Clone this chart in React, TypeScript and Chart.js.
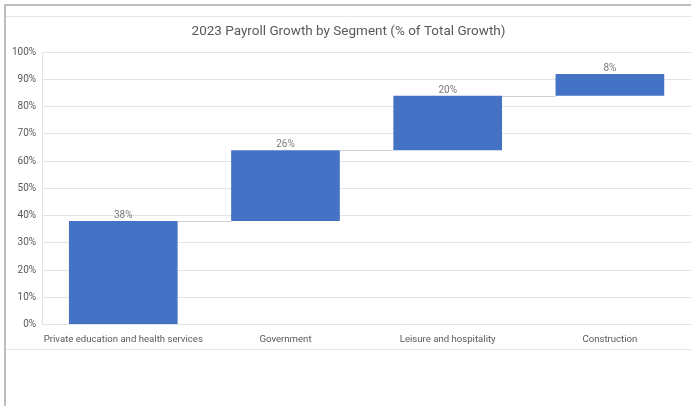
import React, { useEffect, useRef } from "react";
import { Chart, registerables } from "chart.js";

Chart.register(...registerables);

const categories = [
  "Private education and health services",
  "Government",
  "Leisure and hospitality",
  "Construction",
];
const growthShare = [38, 26, 20, 8];
const yTicks = [0, 10, 20, 30, 40, 50, 60, 70, 80, 90, 100];
const titleText = "2023 Payroll Growth by Segment (% of Total Growth)";

const BAR_COLOR = "#4472C4";
const TEXT_COLOR = "#595959";
const GRID_COLOR = "#e3e3e3";

export default function App() {
  const ref = useRef<HTMLCanvasElement | null>(null);

  useEffect(() => {
    document.body.style.margin = "0";
    const canvas = ref.current;
    if (!canvas) return;

    const ranges: [number, number][] = [];
    let acc = 0;
    for (const v of growthShare) {
      ranges.push([acc, acc + v]);
      acc += v;
    }

    const framePlugin = {
      id: "frame",
      beforeDraw(chart: any) {
        const ctx = chart.ctx;
        ctx.save();
        ctx.fillStyle = "#ffffff";
        ctx.fillRect(0, 0, chart.width, chart.height);
        ctx.strokeStyle = "#bdbdbd";
        ctx.lineWidth = 2;
        ctx.beginPath();
        ctx.moveTo(4, 5);
        ctx.lineTo(chart.width, 5);
        ctx.moveTo(5, 4);
        ctx.lineTo(5, chart.height);
        ctx.stroke();
        ctx.strokeStyle = "#e6e6e6";
        ctx.lineWidth = 1;
        ctx.beginPath();
        ctx.moveTo(6, 16.5);
        ctx.lineTo(chart.width, 16.5);
        ctx.moveTo(6, 349.5);
        ctx.lineTo(chart.width, 349.5);
        ctx.stroke();
        ctx.restore();
      },
    };

    const wfPlugin = {
      id: "wf",
      afterDatasetsDraw(chart: any) {
        const ctx = chart.ctx;
        const meta = chart.getDatasetMeta(0);
        const y = chart.scales.y;
        ctx.save();
        ctx.strokeStyle = "#d0d0d0";
        ctx.lineWidth = 1;
        for (let i = 0; i < meta.data.length - 1; i++) {
          const a = meta.data[i];
          const b = meta.data[i + 1];
          const yy = Math.round(y.getPixelForValue(ranges[i][1])) + 0.5;
          ctx.beginPath();
          ctx.moveTo(a.x + a.width / 2, yy);
          ctx.lineTo(b.x - b.width / 2, yy);
          ctx.stroke();
        }
        ctx.fillStyle = "#7a7a7a";
        ctx.font = "10px Roboto";
        ctx.textAlign = "center";
        ctx.textBaseline = "bottom";
        meta.data.forEach((el: any, i: number) => {
          const top = y.getPixelForValue(ranges[i][1]);
          ctx.fillText(growthShare[i] + "%", el.x, top - 0.5);
        });
        ctx.restore();
      },
    };

    const chart = new Chart(canvas, {
      type: "bar",
      data: {
        labels: categories,
        datasets: [
          {
            data: ranges as any,
            backgroundColor: BAR_COLOR,
            borderWidth: 0,
            categoryPercentage: 1,
            barPercentage: 0.67,
          },
        ],
      },
      options: {
        animation: false,
        responsive: false,
        maintainAspectRatio: false,
        layout: { padding: { left: 6, right: 0, top: 0, bottom: 52 } },
        plugins: {
          legend: { display: false },
          tooltip: { enabled: false },
          title: {
            display: true,
            text: titleText,
            color: TEXT_COLOR,
            font: { family: "Roboto", size: 13.5, weight: "normal" },
            padding: { top: 24, bottom: 12 },
          },
        },
        scales: {
          x: {
            grid: { display: false, drawTicks: false },
            border: { display: false },
            ticks: {
              color: TEXT_COLOR,
              font: { family: "Roboto", size: 9.6 },
              padding: 9,
              maxRotation: 0,
              autoSkip: false,
            },
          },
          y: {
            min: yTicks[0],
            max: yTicks[yTicks.length - 1],
            afterBuildTicks(axis: any) {
              axis.ticks = yTicks.map((v) => ({ value: v }));
            },
            grid: { color: GRID_COLOR, drawTicks: false },
            border: { display: true, color: GRID_COLOR },
            ticks: {
              color: TEXT_COLOR,
              font: { family: "Roboto", size: 10 },
              padding: 6,
              callback: (v: any) => v + "%",
            },
          },
        },
      },
      plugins: [framePlugin, wfPlugin],
    });
    return () => chart.destroy();
  }, []);

  return (
    <div style={{ width: 691, height: 406, position: "relative" }}>
      <canvas ref={ref} width={691} height={406} style={{ display: "block" }} />
    </div>
  );
}
